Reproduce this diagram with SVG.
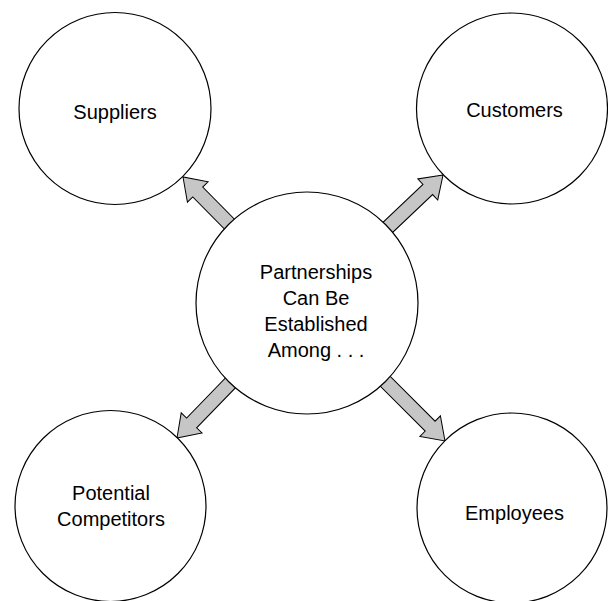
<svg xmlns="http://www.w3.org/2000/svg" xmlns:xlink="http://www.w3.org/1999/xlink" width="608" height="601" viewBox="0 0 608 601">
<style>
.node circle{fill:#fff;stroke:#000;stroke-width:1.2}
.node text{font-family:"Liberation Sans",Arial,Helvetica,sans-serif;font-size:20px;fill:#000;text-anchor:middle}
.arrow{fill:#c6c6c6;stroke:#000;stroke-width:1;stroke-linejoin:miter}
</style>
<defs>
<path id="arr" class="arrow" d="M0,0 L-21,-14.5 L-21,-7 L-95,-7 L-95,7 L-21,7 L-21,14.5 Z"/>
</defs>
<rect width="608" height="601" fill="#fff"/>
<g id="connectors">
<use xlink:href="#arr" href="#arr" transform="translate(183,177) rotate(-134.6)"/>
<use xlink:href="#arr" href="#arr" transform="translate(443,175) rotate(-43.5)"/>
<use xlink:href="#arr" href="#arr" transform="translate(177,438) rotate(134.1)"/>
<use xlink:href="#arr" href="#arr" transform="translate(445,441) rotate(45)"/>
</g>
<g id="center" class="node">
<circle cx="307" cy="303" r="111"/>
<text x="316" y="279">Partnerships</text>
<text x="316" y="305">Can Be</text>
<text x="316" y="331">Established</text>
<text x="316" y="357">Among . . .</text>
</g>
<g id="suppliers" class="node">
<circle cx="115" cy="108.5" r="96"/>
<text x="115" y="119">Suppliers</text>
</g>
<g id="customers" class="node">
<circle cx="512" cy="108.5" r="95.5"/>
<text x="514.5" y="117">Customers</text>
</g>
<g id="competitors" class="node">
<circle cx="110.5" cy="506" r="95.5"/>
<text x="111" y="500">Potential</text>
<text x="111" y="526">Competitors</text>
</g>
<g id="employees" class="node">
<circle cx="512" cy="508" r="95"/>
<text x="514.5" y="520">Employees</text>
</g>
</svg>
